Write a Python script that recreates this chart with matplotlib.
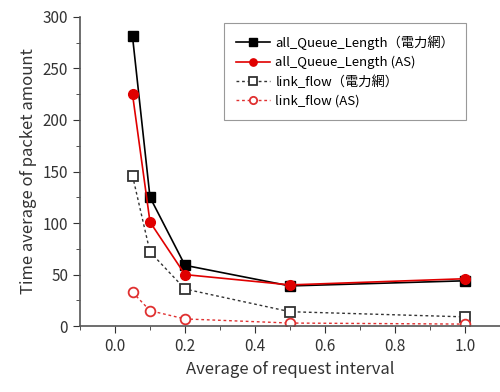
#!/usr/bin/env python3
"""Time average of packet amount vs. request interval."""

import matplotlib.pyplot as plt
from matplotlib.ticker import MultipleLocator

plt.rcParams['font.family'] = ['Noto Sans CJK JP', 'DejaVu Sans']

interval = [0.05, 0.1, 0.2, 0.5, 1.0]
queue_grid = [281, 125, 59, 39, 44]
queue_as = [225, 101, 50, 40, 46]
flow_grid = [146, 72, 36, 14, 9]
flow_as = [33, 15, 7, 3, 2]

labels = [
    "all_Queue_Length（電力網）",
    "all_Queue_Length (AS)",
    "link_flow（電力網）",
    "link_flow (AS)",
]

fig = plt.figure(figsize=(5.0, 3.92), dpi=100)
ax = fig.add_axes([0.16, 0.168, 0.84, 0.789])

ax.plot(interval, queue_grid, color="black", marker="s", ms=7, lw=1.2, label=labels[0])
ax.plot(interval, queue_as, color="#e00000", marker="o", ms=7, lw=1.2, label=labels[1])
ax.plot(interval, flow_grid, color="#333333", marker="s", ms=7, mfc="white", mew=1.3,
        ls=(0, (2, 2)), lw=1.0, label=labels[2])
ax.plot(interval, flow_as, color="#e03030", marker="o", ms=7, mfc="white", mew=1.3,
        ls=(0, (2, 2)), lw=1.0, label=labels[3])

ax.set_xlim(-0.1, 1.1)
ax.set_ylim(0, 300)
ax.xaxis.set_major_locator(MultipleLocator(0.2))
ax.xaxis.set_minor_locator(MultipleLocator(0.1))
ax.yaxis.set_major_locator(MultipleLocator(50))
ax.yaxis.set_minor_locator(MultipleLocator(25))
ax.xaxis.set_major_formatter(lambda v, p: f"{v:.1f}")
ax.tick_params(which="both", direction="out", labelsize=11, colors="#333333")
ax.tick_params(which="major", length=5)
ax.tick_params(which="minor", length=3)

for side in ("top", "right"):
    ax.spines[side].set_visible(False)
for side in ("left", "bottom"):
    ax.spines[side].set_color("#555555")
    ax.spines[side].set_linewidth(1.2)

ax.set_xlabel("Average of request interval", fontsize=12, color="#333333")
ax.set_ylabel("Time average of packet amount", fontsize=12, color="#333333")

leg = ax.legend(loc="upper right", bbox_to_anchor=(0.935, 1.0), fontsize=9.5,
                fancybox=False, edgecolor="#999999", framealpha=1,
                handlelength=2.6, handletextpad=0.4, markerscale=0.75,
                borderpad=0.9, labelspacing=0.45)
leg.get_frame().set_linewidth(0.8)

fig.savefig("out.png", dpi=100)
